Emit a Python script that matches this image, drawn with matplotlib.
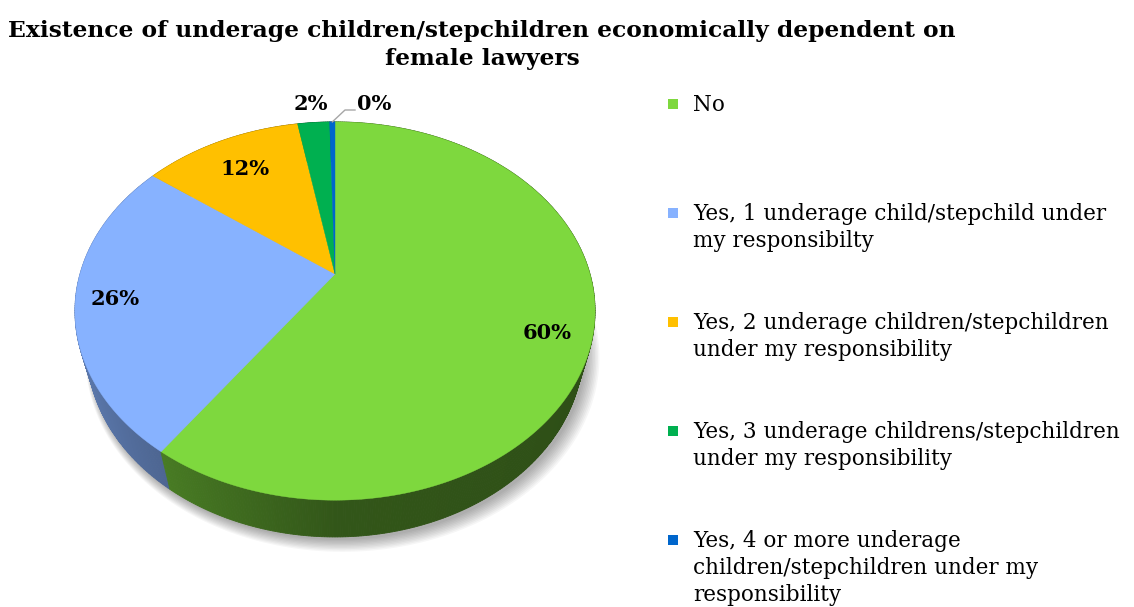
import numpy as np
import matplotlib
matplotlib.use("Agg")
import matplotlib.pyplot as plt
from matplotlib.patches import Polygon, Rectangle
from matplotlib.colors import to_rgb

plt.rcParams['font.family'] = ['DejaVu Serif']

title = "Existence of underage children/stepchildren economically dependent on\nfemale lawyers"
categories = [
    "No",
    "Yes, 1 underage child/stepchild under\nmy responsibilty",
    "Yes, 2 underage children/stepchildren\nunder my responsibility",
    "Yes, 3 underage childrens/stepchildren\nunder my responsibility",
    "Yes, 4 or more underage\nchildren/stepchildren under my\nresponsibility",
]
shares = [59.7, 25.6, 11.9, 2.4, 0.4]
colors = ["#7ED83E", "#87B2FF", "#FFC000", "#00B050", "#0066CC"]

# perspective pie: camera elevation, distance, focal length, thickness
elev = np.radians(45.5)
se, ce = np.sin(elev), np.cos(elev)
D, F, H = 3.58, 913.0, 0.234
cx, cy = 335.0, 274.0


def proj(t, r=1.0, z=0.0):
    x, y = r * np.cos(t), r * np.sin(t)
    depth = D + y * ce - z * se
    return cx + F * x / depth, cy - F * (y * se + z * ce) / depth


fig = plt.figure(figsize=(11.34, 6.07), dpi=100)
ax = fig.add_axes([0, 0, 1, 1])
ax.set_xlim(0, 1134)
ax.set_ylim(607, 0)
ax.axis("off")

total = sum(shares)
bounds = [90.0]
for v in shares:
    bounds.append(bounds[-1] - 360.0 * v / total)
bounds = np.radians(bounds)

# soft drop shadow under the base
tt = np.linspace(0, 2 * np.pi, 361)
bx, by = proj(tt, 1.0, -H)
mx, my = bx.mean(), by.mean()
for i in range(10):
    s = 1.0 + 0.004 * i
    pts = np.column_stack([mx + (bx - mx) * s + 3 + 0.5 * i, my + (by - my) * s + 3 + 0.5 * i])
    ax.add_patch(Polygon(pts, closed=True, facecolor="black", edgecolor="none", alpha=0.035, zorder=1))


def slice_of(t):
    for i in range(len(shares)):
        hi, lo = bounds[i], bounds[i + 1]
        a = (t - lo) % (2 * np.pi)
        if a <= (hi - lo):
            return i
    return 0


# side wall strips, drawn far to near
strips = []
step = np.radians(0.5)
for a in np.arange(0, 2 * np.pi, step):
    b = a + step
    m = (a + b) / 2
    base = np.array(to_rgb(colors[slice_of(m)]))
    k = 0.40 + 0.30 * max(0.0, -np.cos(m)) - 0.04 * max(0.0, np.cos(m))
    col = np.clip(base * k, 0, 1)
    p1, p2 = proj(a), proj(b)
    p3, p4 = proj(b, 1.0, -H), proj(a, 1.0, -H)
    strips.append((np.sin(m), [p1, p2, p3, p4], col))
strips.sort(key=lambda s: -s[0])
for _, pts, col in strips:
    ax.add_patch(Polygon(pts, closed=True, facecolor=col, edgecolor=col, lw=0.6, zorder=2))

# top faces
for i, col in enumerate(colors):
    ts = np.linspace(bounds[i], bounds[i + 1], max(3, int(abs(bounds[i] - bounds[i + 1]) / np.radians(0.5))))
    xs, ys = proj(ts)
    pts = [(cx, cy)] + list(zip(xs, ys))
    ax.add_patch(Polygon(pts, closed=True, facecolor=col, edgecolor=col, lw=0.3, zorder=3))

# percentage labels (radius, angle nudge in degrees)
lab_pos = [(0.84, -4.0), (0.85, 0.0), (0.76, 0.0)]
lab_kw = dict(fontsize=15, fontweight="bold", zorder=5)
for i, (r, da) in enumerate(lab_pos):
    mid = (bounds[i] + bounds[i + 1]) / 2 + np.radians(da)
    x, y = proj(mid, r)
    ax.text(x, y, "{:.0f}%".format(shares[i]), ha="center", va="center", **lab_kw)
ax.text(311, 104, "{:.0f}%".format(shares[3]), ha="center", va="center", **lab_kw)
ex, ey = proj(bounds[4] + (bounds[5] - bounds[4]) / 2)
ax.plot([ex, 345, 355], [ey, 110, 110], color="#A6A6A6", lw=1, zorder=5)
ax.text(357, 104, "{:.0f}%".format(shares[4]), ha="left", va="center", **lab_kw)

ax.text(482, 45, title, ha="center", va="center", fontsize=16.8, fontweight="bold", linespacing=1.3)

# legend
for i, (lab, col) in enumerate(zip(categories, colors)):
    y = 104 + 109 * i
    ax.add_patch(Rectangle((668, y - 5), 10, 10, facecolor=col, edgecolor="none"))
    ax.text(693, y - 10, lab, ha="left", va="top", fontsize=15.5, linespacing=1.3)

fig.savefig("out.png", dpi=100)
